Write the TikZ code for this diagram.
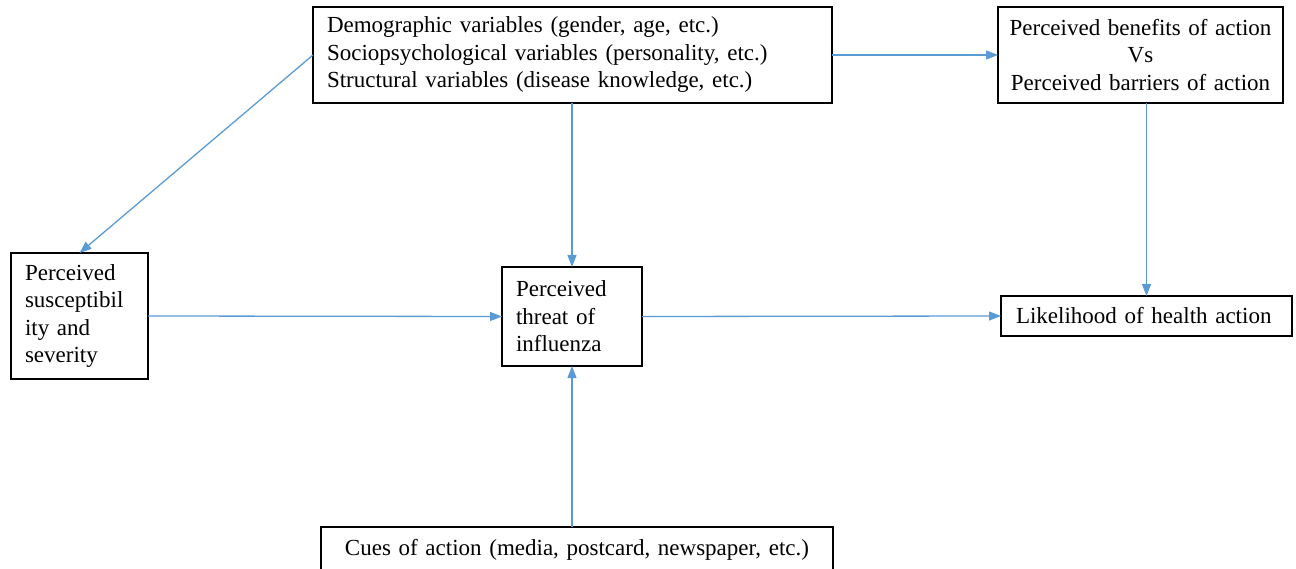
\documentclass[tikz,border=0pt]{standalone}
\usepackage{fontspec}
\setmainfont{Liberation Serif}
\usetikzlibrary{arrows.meta}
\definecolor{arrowblue}{RGB}{91,155,213}
\begin{document}
\begin{tikzpicture}[x=1pt,y=-1pt,
  box/.style={draw=black, line width=1.2pt, font=\fontsize{23}{27.5}\selectfont, inner ysep=0pt, outer sep=0pt},
  leftbox/.style={box, align=left, inner xsep=14pt},
  ctrbox/.style={box, align=center, inner xsep=0pt},
  arr/.style={draw=arrowblue, line width=1.3pt, -{Triangle[length=12pt,width=9pt]}}]
\useasboundingbox (0,0) rectangle (1296,569);
\node[leftbox, text width=491pt, minimum height=96pt] (demo) at (572.5,55)
  {Demographic variables (gender, age, etc.)\\Sociopsychological variables (personality, etc.)\\Structural variables (disease knowledge, etc.)};
\node[ctrbox, text width=285pt, minimum height=96pt] (ben) at (1140.5,55)
  {Perceived benefits of action\\Vs\\Perceived barriers of action};
\node[leftbox, text width=109pt, minimum height=126pt] (sus) at (79.5,316)
  {Perceived\\susceptibil\\ity and\\severity};
\node[leftbox, text width=112pt, minimum height=99pt] (thr) at (572,316.5)
  {Perceived\\threat of\\influenza};
\node[leftbox, inner xsep=15pt, text width=261pt, minimum height=40pt] (like) at (1146.5,316)
  {Likelihood of health action};
\node[ctrbox, text width=512pt, minimum height=46pt] (cue) at (577,550)
  {Cues of action (media, postcard, newspaper, etc.)};
\draw[arr] (demo.west) -- (sus.north);
\draw[arr] (demo.south -| thr.north) -- (thr.north);
\draw[arr] (demo.east) -- (ben.west);
\draw[arr] (ben.south -| like.north) -- (like.north);
\draw[arr] (sus.east) -- (thr.west);
\draw[arr] (thr.east) -- (like.west);
\draw[arr] (cue.north -| thr.south) -- (thr.south);
\end{tikzpicture}
\end{document}
